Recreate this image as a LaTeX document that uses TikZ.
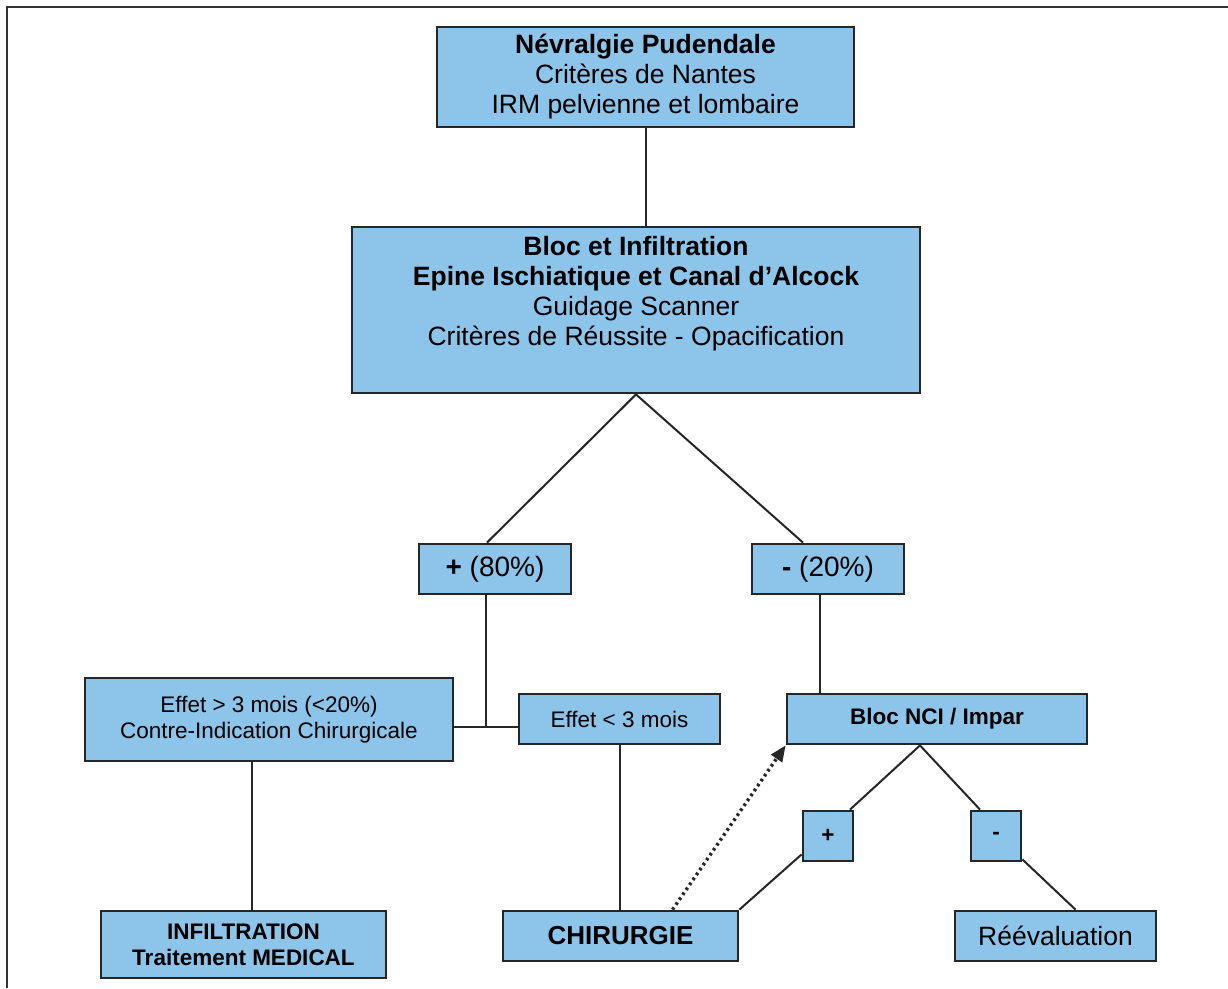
\documentclass[tikz,border=0pt]{standalone}
\usepackage{fontspec}
\setmainfont{Liberation Sans}
\usetikzlibrary{arrows.meta}
\definecolor{boxblue}{RGB}{141,196,234}
\tikzset{
  box/.style={draw=black!85, line width=2.8pt, fill=boxblue, inner sep=0pt, align=center},
  big/.style={font=\fontsize{26.5}{30}\selectfont},
  small/.style={font=\fontsize{22.5}{25.5}\selectfont},
  conn/.style={draw=black!85, line width=2pt},
  dotarrow/.style={draw=black!85, line width=3.4pt, dash pattern=on 2.6pt off 3.4pt, -{Triangle[length=16pt,width=13pt]}}
}
\begin{document}
\begin{tikzpicture}[x=1pt,y=-1pt]
\useasboundingbox (0,0) rectangle (1228,988);
\fill[white] (0,0) rectangle (1228,988);
% frame (top and left edges only)
\draw[black!80, line width=2pt] (1228,6.5) -- (7,6.5) -- (7,988);

% nodes
\node[box, big, minimum width=417, minimum height=100] (top) at (645.5,77)
  {\textbf{Névralgie Pudendale}\\Critères de Nantes\\IRM pelvienne et lombaire};
\node[box, minimum width=568, minimum height=166] (bigbox) at (636,310) {};
\node[big, align=center, inner sep=0pt] (bigtext) at (636,294)
  {\textbf{Bloc et Infiltration}\\\textbf{Epine Ischiatique et Canal d’Alcock}\\Guidage Scanner\\Critères de Réussite - Opacification};
\node[box, font=\fontsize{28}{30}\selectfont, minimum width=152, minimum height=50] (p80) at (495,569) {\textbf{+} (80\%)};
\node[box, font=\fontsize{28}{30}\selectfont, minimum width=152, minimum height=50] (m20) at (828,569) {\textbf{-} (20\%)};
\node[box, small, minimum width=368, minimum height=83] (left) at (269,719.5)
  {Effet > 3 mois (<20\%)\\Contre-Indication Chirurgicale};
\node[box, small, minimum width=201, minimum height=50] (lt3) at (619.5,719) {Effet < 3 mois};
\node[box, small, minimum width=300, minimum height=50] (nci) at (937,719) {\textbf{Bloc NCI / Impar}};
\node[box, small, minimum width=50, minimum height=50] (plus) at (828,836) {\textbf{+}};
\node[box, small, minimum width=50, minimum height=50] (minus) at (996,836) {\textbf{-}};
\node[box, small, minimum width=285, minimum height=67] (infil) at (243.5,944.5)
  {\textbf{INFILTRATION}\\\textbf{Traitement MEDICAL}};
\node[box, font=\fontsize{26}{28}\selectfont, minimum width=235, minimum height=50] (chir) at (620.5,936) {\textbf{CHIRURGIE}};
\node[box, big, minimum width=201, minimum height=50] (reev) at (1055.5,936) {Réévaluation};

% junction
\coordinate (j) at (486,727);

% connectors
\draw[conn] (top.south) -- (top.south |- bigbox.north);
\draw[conn] (bigbox.south) -- ([xshift=-8]p80.north);
\draw[conn] (bigbox.south) -- ([xshift=-25]m20.north);
\draw[conn] ([xshift=-9]p80.south) -- (j);
\draw[conn] (left.east |- j) -- (lt3.west |- j);
\draw[conn] (lt3.south) -- (lt3.south |- chir.north);
\draw[conn] ([xshift=-17]left.south) -- ([xshift=8.5]infil.north);
\draw[conn] ([xshift=-8]m20.south) -- ([xshift=-8]m20.south |- nci.north);
\draw[conn] ([xshift=-17]nci.south) -- ([xshift=22]plus.north);
\draw[conn] ([xshift=-17]nci.south) -- ([xshift=-16]minus.north);
\draw[conn] ([yshift=8]plus.south west) -- (chir.north east);
\draw[conn] ([yshift=3]minus.south east) -- ([xshift=20]reev.north);
\draw[dotarrow] ([xshift=52]chir.north) -- (nci.south west);
\end{tikzpicture}
\end{document}
